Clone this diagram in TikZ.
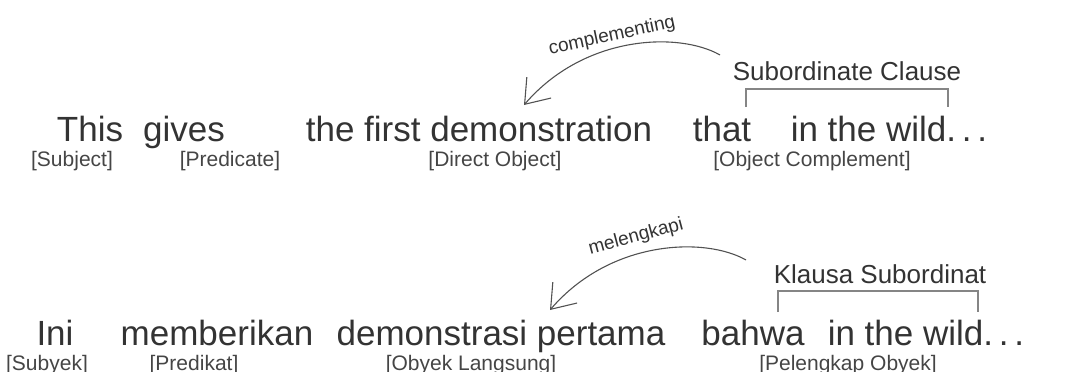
\documentclass[tikz,border=0pt]{standalone}
\usepackage{fontspec}
\setmainfont{Liberation Sans}
\usetikzlibrary{arrows.meta}
\definecolor{ink}{HTML}{333333}
\definecolor{rolegray}{HTML}{454545}
\definecolor{brackgray}{HTML}{858585}
\tikzset{
  word/.style={anchor=base, inner sep=0pt, text=ink, font=\fontsize{35}{42}\selectfont},
  role/.style={anchor=base, inner sep=0pt, text=rolegray, font=\fontsize{21}{25}\selectfont},
  clause/.style={anchor=base, inner sep=0pt, text=ink, font=\fontsize{26}{31}\selectfont},
  relnote/.style={inner sep=0pt, text=ink, font=\fontsize{19}{23}\selectfont},
  relarrow/.style={draw=ink!85, line width=1.1pt, -{Straight Barb[length=22pt,width=32pt]}},
  clausebracket/.style={draw=brackgray, line width=1.4pt},
}
\begin{document}
\begin{tikzpicture}[x=1pt,y=-1pt]
  \useasboundingbox (0,0) rectangle (1074,372);
  % Satz (englisch)
  \node [word] (this)  at (90,141)  {This};
  \node [word] (gives) at (184,141) {gives};
  \node [word] (demo)  at (479,141) {the first demonstration};
  \node [word] (that)  at (722,141) {that};
  \node [word] (wild)  at (889,141) {in the wild.\,.\,.};
  % Satzglieder
  \node [role] (subj) at (72,166)  {[Subject]};
  \node [role] (pred) at (230,166) {[Predicate]};
  \node [role] (dobj) at (495,166) {[Direct Object]};
  \node [role] (ocmp) at (812,166) {[Object Complement]};
  % Nebensatz
  \node [clause] (subcl) at (847,80) {Subordinate Clause};
  \coordinate (subl) at (746,107);
  \coordinate (subr) at (948,107);
  \draw [clausebracket] (subl) -- ++(0,-18) -| (subr);
  % Pfeil
  \coordinate (cstart) at (720,55);
  \coordinate (ctip)   at (524,105);
  \draw [relarrow] (cstart) .. controls (680,32) and (585,34) .. (ctip);
  \node [relnote, rotate=12] (compl) at (612,36) {complementing};

  % Satz (indonesisch)
  \node [word] (ini)   at (55,345)  {Ini};
  \node [word] (beri)  at (217,345) {memberikan};
  \node [word] (demid) at (501,345) {demonstrasi pertama};
  \node [word] (bahwa) at (753,345) {bahwa};
  \node [word] (wildi) at (926,345) {in the wild.\,.\,.};
  % Satzglieder
  \node [role] (subyek) at (47,370)  {[Subyek]};
  \node [role] (predik) at (194,370) {[Predikat]};
  \node [role] (olang)  at (471,370) {[Obyek Langsung]};
  \node [role] (pelob)  at (848,370) {[Pelengkap Obyek]};
  % Nebensatz
  \node [clause] (klausa) at (880,283) {Klausa Subordinat};
  \coordinate (klsl) at (778,312);
  \coordinate (klsr) at (978,312);
  \draw [clausebracket] (klsl) -- ++(0,-21) -| (klsr);
  % Pfeil
  \coordinate (mstart) at (746,260);
  \coordinate (mtip)   at (550,310);
  \draw [relarrow] (mstart) .. controls (706,237) and (611,239) .. (mtip);
  \node [relnote, rotate=15] (meleng) at (636,237) {melengkapi};
\end{tikzpicture}
\end{document}
